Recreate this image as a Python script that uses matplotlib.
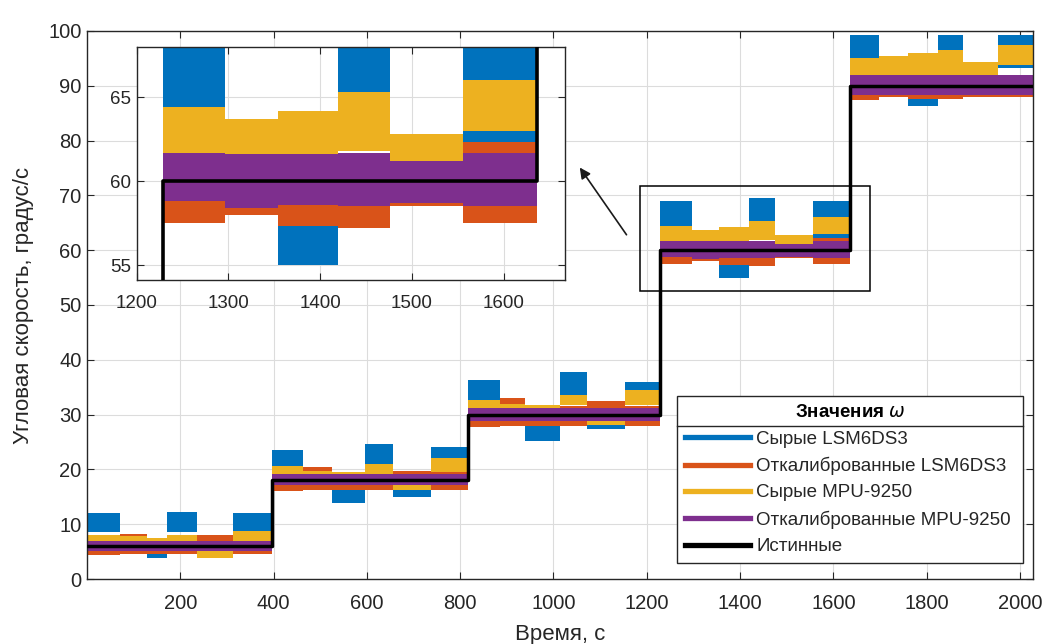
import matplotlib
matplotlib.use("Agg")
import matplotlib.pyplot as plt
from matplotlib.lines import Line2D
from matplotlib.patches import Rectangle
import numpy as np

plt.rcParams['font.family'] = ['Liberation Sans', 'DejaVu Sans']

# ---------------- data ----------------
# sub-interval boundaries (time, s): 5 levels x 6 sub-intervals
t_edges = [0, 70, 128, 171, 236, 314,
           396, 464, 525, 596, 656, 738,
           816, 886, 940, 1015, 1071, 1153,
           1229, 1296, 1354, 1420, 1476, 1556,
           1636, 1698, 1760, 1824, 1878, 1953,
           2028]

# true angular rate levels
true_edges = [0, 396, 816, 1229, 1636, 2028]
true_vals = [6, 18, 30, 60, 90]

# envelopes (min / max) of each noisy series per sub-interval
raw_lsm_lo = [8.5, 5.0, 3.8, 8.6, 5.0, 8.5,
              20.5, 16.5, 13.9, 21.0, 15.0, 21.5,
              32.7, 28.5, 25.1, 33.6, 27.4, 33.5,
              64.2, 59.0, 55.0, 64.5, 58.5, 62.0,
              95.0, 89.0, 86.3, 96.6, 88.0, 93.2]
raw_lsm_hi = [12.0, 8.0, 5.5, 12.2, 7.5, 12.0,
              23.5, 19.0, 16.5, 24.6, 17.8, 24.0,
              36.3, 31.5, 28.3, 37.8, 29.5, 36.0,
              69.0, 61.0, 58.5, 69.5, 60.0, 69.0,
              99.3, 92.0, 88.8, 99.3, 91.0, 99.3]
cal_lsm_lo = [4.3, 4.6, 4.5, 4.6, 4.6, 4.6,
              16.0, 16.2, 16.2, 16.2, 16.5, 16.2,
              27.8, 28.0, 28.0, 28.0, 28.3, 28.0,
              57.5, 58.0, 57.3, 57.2, 58.5, 57.5,
              87.4, 88.0, 87.5, 87.5, 88.0, 88.0]
cal_lsm_hi = [7.5, 8.2, 7.5, 7.5, 8.0, 7.5,
              19.5, 20.5, 19.0, 19.5, 19.8, 19.5,
              31.5, 33.0, 31.0, 31.5, 32.5, 31.5,
              61.0, 61.0, 61.0, 61.5, 61.5, 62.3,
              91.0, 91.5, 91.0, 91.5, 92.0, 91.8]
raw_mpu_lo = [6.5, 6.3, 6.3, 7.0, 3.9, 6.6,
              19.0, 18.5, 18.5, 19.2, 16.3, 19.6,
              31.2, 30.8, 30.8, 31.8, 28.1, 31.8,
              61.5, 61.3, 61.5, 61.8, 61.1, 63.0,
              92.0, 91.5, 92.0, 92.0, 91.8, 93.8]
raw_mpu_hi = [8.0, 7.8, 7.5, 8.1, 5.2, 8.8,
              20.6, 19.8, 19.6, 21.0, 17.3, 22.0,
              32.7, 32.0, 31.8, 33.6, 29.3, 34.5,
              64.4, 63.7, 64.2, 65.3, 62.8, 66.0,
              95.0, 95.5, 96.0, 96.6, 94.4, 97.5]
cal_mpu_lo = [5.1, 5.1, 5.1, 5.1, 5.1, 5.1,
              17.2, 17.2, 17.2, 17.2, 17.2, 17.2,
              28.8, 28.8, 28.8, 28.8, 28.8, 28.8,
              58.8, 58.4, 58.6, 58.5, 58.7, 58.5,
              88.4, 88.4, 88.4, 88.4, 88.4, 88.4]
cal_mpu_hi = [7.0, 7.0, 7.0, 7.0, 7.0, 7.0,
              19.2, 19.2, 19.2, 19.2, 19.2, 19.2,
              31.2, 31.2, 31.2, 31.2, 31.2, 31.2,
              61.7, 61.6, 61.6, 61.7, 61.2, 61.7,
              92.0, 92.0, 92.0, 92.0, 92.0, 92.0]

labels = ['Сырые LSM6DS3', 'Откалиброванные LSM6DS3', 'Сырые MPU-9250',
          'Откалиброванные MPU-9250', 'Истинные']
colors = ['#0072BD', '#D95319', '#EDB120', '#7E2F8E', 'black']

series = [(raw_lsm_lo, raw_lsm_hi), (cal_lsm_lo, cal_lsm_hi),
          (raw_mpu_lo, raw_mpu_hi), (cal_mpu_lo, cal_mpu_hi)]

TXT = '#262626'


def draw_data(ax, lw_true):
    for (lo, hi), c in zip(series, colors):
        ax.fill_between(t_edges, lo + [lo[-1]], hi + [hi[-1]], step='post',
                        color=c, lw=0, zorder=2)
    ax.step(true_edges, true_vals + [true_vals[-1]], where='post',
            color='black', lw=lw_true, zorder=3)


def style(ax, fs):
    ax.grid(True, color='#dcdcdc', lw=0.8, zorder=0)
    ax.set_axisbelow(True)
    ax.tick_params(direction='in', top=True, right=True, length=5,
                   labelsize=fs, colors=TXT, width=0.8)
    ax.tick_params(axis='x', pad=11)
    ax.tick_params(axis='y', pad=4)
    for s in ax.spines.values():
        s.set_color(TXT)
        s.set_linewidth(1.0)


fig = plt.figure(figsize=(10.43, 6.44), dpi=100)
fig.patch.set_facecolor('white')

# ---------------- main axes ----------------
ax = fig.add_axes([0.0834, 0.1009, 0.907, 0.851])
draw_data(ax, 2.5)
ax.set_xlim(0, 2028)
ax.set_ylim(0, 100)
ax.set_xticks(np.arange(200, 2001, 200))
ax.set_yticks(np.arange(0, 101, 10))
style(ax, 14.5)
ax.set_xlabel('Время, с', fontsize=16, color=TXT, labelpad=8)
ax.set_ylabel('Угловая скорость, градус/с', fontsize=16, color=TXT, labelpad=10)

# zoom rectangle and arrow
ax.add_patch(Rectangle((1186, 52.6), 492, 19.2, fill=False, ec='black',
                       lw=1.1, zorder=4))
ax.annotate('', xy=(1053, 75.5), xytext=(1160, 62.4),
            arrowprops=dict(arrowstyle='-|>', color='#1a1a1a', lw=1.2,
                            mutation_scale=16), zorder=5)

handles = [Line2D([], [], color=c, lw=3.8) for c in colors]
leg = ax.legend(handles, labels, title='Значения $\\omega$',
                loc='lower left', bbox_to_anchor=(0.6237, 0.029, 0.366, 0.31),
                mode='expand', fontsize=13.5, title_fontsize=13.5,
                frameon=True, fancybox=False, framealpha=1, edgecolor=TXT,
                handlelength=3.45, handletextpad=0.36, labelspacing=0.49,
                borderpad=0.42, borderaxespad=0)
leg.get_title().set_fontweight('bold')
leg.get_frame().set_linewidth(1.0)
leg.set_zorder(10)
for t in leg.get_texts():
    t.set_color(TXT)

# ---------------- inset axes ----------------
axi = fig.add_axes([0.131, 0.565, 0.4107, 0.3623])
draw_data(axi, 2.6)
axi.set_xlim(1200, 1667)
axi.set_ylim(54.1, 68)
axi.set_xticks(np.arange(1200, 1601, 100))
axi.set_yticks([55, 60, 65])
style(axi, 13.5)
axi.set_facecolor('white')

# legend title separator (between title and first entry)
fig.canvas.draw()
r = fig.canvas.get_renderer()
fb = leg.get_frame().get_window_extent(r)
tb = leg.get_title().get_window_extent(r)
e0 = leg.get_texts()[0].get_window_extent(r)
ysep = 0.5 * (tb.y0 + e0.y1)
W, H = fig.bbox.width, fig.bbox.height
fig.add_artist(Line2D([fb.x0 / W, fb.x1 / W], [ysep / H, ysep / H],
                      transform=fig.transFigure, color=TXT, lw=1.0, zorder=11))

fig.savefig('out.png', dpi=100, facecolor='white')
